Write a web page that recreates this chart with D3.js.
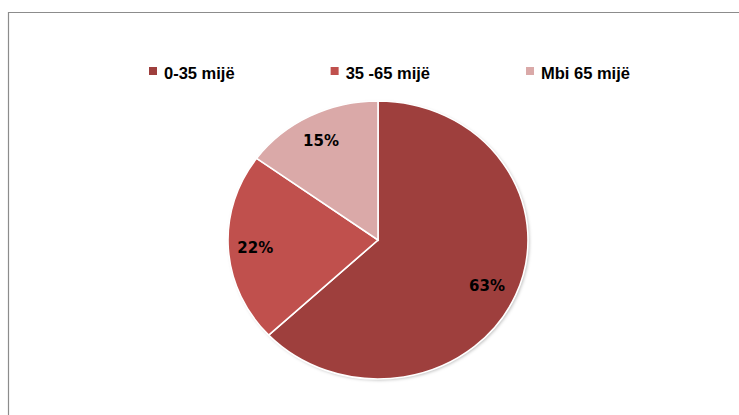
<!DOCTYPE html>
<html>
<head>
<meta charset="utf-8">
<script src="https://cdn.jsdelivr.net/npm/d3@7"></script>
<style>
  html, body { margin: 0; padding: 0; background: #fff; }
  svg { display: block; }
</style>
</head>
<body>
<svg id="chart" width="739" height="415"></svg>
<script>
const categories = ["0-35 mijë", "35 -65 mijë", "Mbi 65 mijë"];
const values = [63, 22, 15];
const labels = ["63%", "22%", "15%"];
const colors = ["#9E3F3D", "#C0504D", "#DAA9A8"];

const W = 739, H = 415;
const svg = d3.select("#chart");

// frame (top and left border)
svg.append("path")
  .attr("d", `M8.5,${H} L8.5,12.5 L${W},12.5`)
  .attr("fill", "none")
  .attr("stroke", "#8c8c8c")
  .attr("stroke-width", 1.2);

const defs = svg.append("defs");
const f = defs.append("filter").attr("id", "sh")
  .attr("x", "-10%").attr("y", "-10%").attr("width", "120%").attr("height", "120%");
f.append("feDropShadow").attr("dx", 1.5).attr("dy", 1.5).attr("stdDeviation", 1.5)
  .attr("flood-color", "#000").attr("flood-opacity", 0.25);

// pie
const cx = 378, cy = 240, R = 150, ky = 139 / 150;
const pie = d3.pie().sort(null).value(d => d);
const arcs = pie(values);
const arc = d3.arc().innerRadius(0).outerRadius(R);
const color = d3.scaleOrdinal().domain(categories).range(colors);

const g = svg.append("g")
  .attr("transform", `translate(${cx},${cy}) scale(1,${ky})`);
const gs = g.append("g").attr("filter", "url(#sh)");
gs.append("ellipse").attr("rx", R).attr("ry", R).attr("fill", "#fff");
g.selectAll("path.slice").data(arcs).enter().append("path")
  .attr("class", "slice")
  .attr("d", arc)
  .attr("fill", (d, i) => color(categories[i]))
  .attr("stroke", "#fff")
  .attr("stroke-width", 1.6)
  .attr("vector-effect", "non-scaling-stroke");

// labels
const labelArc = d3.arc().innerRadius(121).outerRadius(121);
svg.selectAll("text.pct").data(arcs).enter().append("text")
  .attr("class", "pct")
  .attr("x", d => cx + labelArc.centroid(d)[0] - 2)
  .attr("y", d => cy + labelArc.centroid(d)[1] * ky + 1)
  .attr("dy", "0.36em")
  .attr("text-anchor", "middle")
  .attr("font-family", "'DejaVu Sans', Verdana, sans-serif")
  .attr("font-weight", "bold")
  .attr("font-size", 15)
  .attr("fill", "#000")
  .text((d, i) => labels[i]);

// legend
const legend = svg.append("g");
let x = 149;
categories.forEach((c, i) => {
  legend.append("rect")
    .attr("x", x).attr("y", 67).attr("width", 8).attr("height", 8)
    .attr("fill", color(c));
  const t = legend.append("text")
    .attr("x", x + 15).attr("y", 78.5)
    .attr("font-family", "'Liberation Sans', Arial, sans-serif")
    .attr("font-weight", "bold")
    .attr("font-size", 16.5)
    .attr("fill", "#000")
    .text(c);
  const w = t.node().getComputedTextLength();
  x = x + 15 + w + 96;
});
</script>
</body>
</html>
